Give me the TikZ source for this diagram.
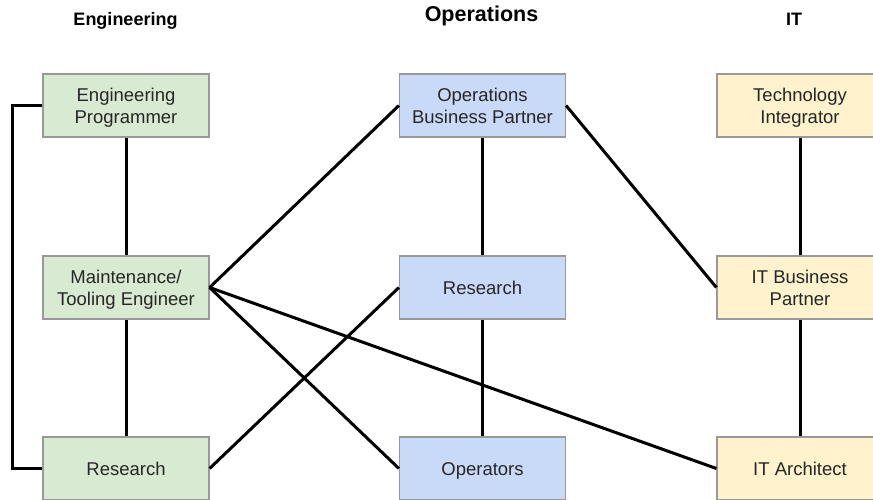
\documentclass[tikz,border=0pt]{standalone}
\usepackage{fontspec}
\setmainfont{Liberation Sans}
\begin{document}
\begin{tikzpicture}[x=1pt,y=-1pt,
  role/.style={draw=black!40, line width=1.2pt, minimum width=166pt, minimum height=63pt,
    inner sep=0pt, align=center, text=black!85,
    font=\fontsize{18.5}{22}\selectfont},
  oneline/.style={text height=16pt, text depth=1.6pt},
  twoline/.style={text height=37pt, text depth=0.6pt},
  eng/.style={role, fill=engfill},
  ops/.style={role, fill=opsfill},
  itr/.style={role, fill=itfill},
  head/.style={anchor=base, font=\bfseries\fontsize{18}{20}\selectfont},
  link/.style={line width=3pt, black}]
\definecolor{engfill}{HTML}{D9EAD3}
\definecolor{opsfill}{HTML}{C9DAF8}
\definecolor{itfill}{HTML}{FFF2CC}
\clip (0,0) rectangle (873,500);
\fill[white] (0,0) rectangle (873,500);

% column headings
\node[head] (hEng) at (125.5,26) {Engineering};
\node[head, font=\bfseries\fontsize{21.5}{24}\selectfont] (hOps) at (481.5,22) {Operations};
\node[head] (hIT) at (794,26) {IT};

% Engineering column
\node[eng, twoline] (ep) at (126,105.5) {Engineering\\Programmer};
\node[eng, twoline] (mt) at (126,287.5) {Maintenance/\\Tooling Engineer};
\node[eng, oneline] (er) at (126,468.5) {Research};

% Operations column
\node[ops, twoline] (obp) at (482.5,105.5) {Operations\\Business Partner};
\node[ops, oneline] (ores) at (482.5,287.5) {Research};
\node[ops, oneline] (oop) at (482.5,468.5) {Operators};

% IT column
\node[itr, twoline] (ti) at (800,105.5) {Technology\\Integrator};
\node[itr, twoline] (ibp) at (800,287.5) {IT Business\\Partner};
\node[itr, oneline] (ia) at (800,468.5) {IT Architect};

% connections within columns
\draw[link] (ep.south) -- (mt.north);
\draw[link] (mt.south) -- (er.north);
\draw[link] (ep.west) -- ++(-30,0) |- (er.west);
\draw[link] (obp.south) -- (ores.north);
\draw[link] (ores.south) -- (oop.north);
\draw[link] (ti.south) -- (ibp.north);
\draw[link] (ibp.south) -- (ia.north);

% connections across columns
\draw[link] (mt.east) -- (obp.west);
\draw[link] (mt.east) -- (oop.west);
\draw[link] (mt.east) -- (ia.west);
\draw[link] (er.east) -- (ores.west);
\draw[link] (obp.east) -- (ibp.west);
\end{tikzpicture}
\end{document}
